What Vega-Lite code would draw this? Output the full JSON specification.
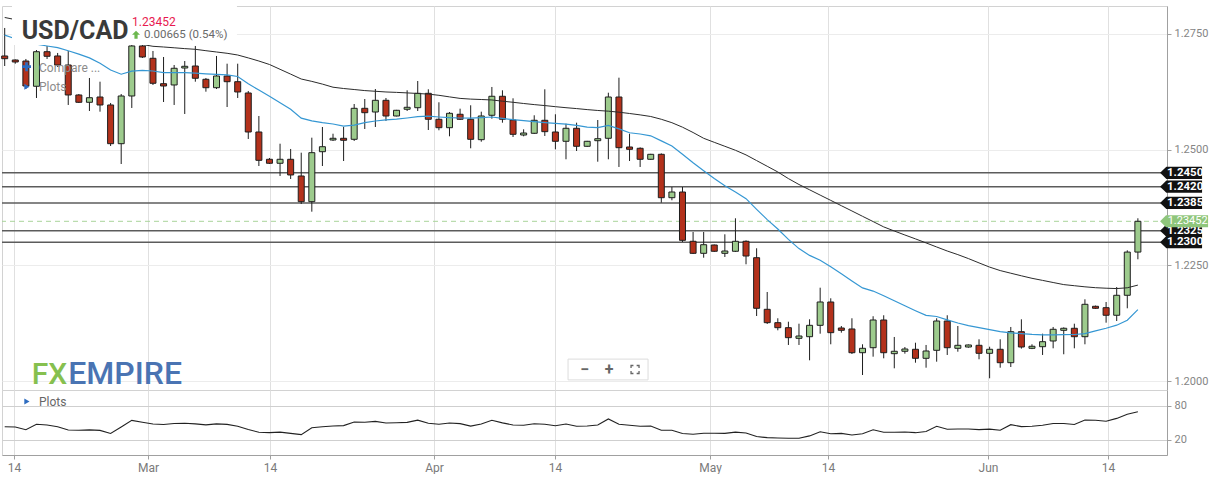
{
  "$schema": "https://vega.github.io/schema/vega-lite/v6.json",
  "padding": {"left": 0, "top": 5, "right": 0, "bottom": 0},
  "background": "white",
  "spacing": 0,
  "bounds": "flush",
  "config": {
    "view": {"stroke": "#d2d2d2"},
    "axis": {"labelFont": "Roboto", "labelColor": "#858585", "labelFontSize": 11, "tickColor": "#a0a0a0", "domainColor": "#a0a0a0", "title": null},
    "text": {"font": "Roboto"}
  },
  "datasets": {
    "levels": [
      {"level": 1.245}, {"level": 1.242}, {"level": 1.2385}, {"level": 1.2325}, {"level": 1.23}
    ],
    "current": [{"level": 1.23452}],
    "candles": [
      {"i":1,"d":"2021-02-12","o":1.27025,"h":1.2763,"l":1.26808,"c":1.26966,"ma20":1.27476,"ma50":1.27857,"rsi":43.3},
      {"i":2,"d":"2021-02-14","o":1.26938,"h":1.2695,"l":1.26858,"c":1.26895,"ma20":1.27398,"ma50":1.27811,"rsi":42.9},
      {"i":3,"d":"2021-02-15","o":1.26916,"h":1.2696,"l":1.26311,"c":1.26376,"ma20":1.27349,"ma50":1.27766,"rsi":38},
      {"i":4,"d":"2021-02-16","o":1.2637,"h":1.27154,"l":1.26117,"c":1.27117,"ma20":1.27282,"ma50":1.2772,"rsi":47.7},
      {"i":5,"d":"2021-02-17","o":1.27117,"h":1.27241,"l":1.2696,"c":1.27018,"ma20":1.27241,"ma50":1.27677,"rsi":46.5},
      {"i":6,"d":"2021-02-18","o":1.27025,"h":1.2709,"l":1.26787,"c":1.2683,"ma20":1.27204,"ma50":1.27632,"rsi":43.5},
      {"i":7,"d":"2021-02-19","o":1.2683,"h":1.27133,"l":1.25966,"c":1.26182,"ma20":1.27137,"ma50":1.27586,"rsi":37.6},
      {"i":8,"d":"2021-02-21","o":1.26182,"h":1.26203,"l":1.26009,"c":1.26024,"ma20":1.27066,"ma50":1.27543,"rsi":37.3},
      {"i":9,"d":"2021-02-22","o":1.26024,"h":1.26549,"l":1.25836,"c":1.26123,"ma20":1.26983,"ma50":1.27498,"rsi":37.8},
      {"i":10,"d":"2021-02-23","o":1.26138,"h":1.26469,"l":1.25821,"c":1.25966,"ma20":1.26867,"ma50":1.27452,"rsi":36.9},
      {"i":11,"d":"2021-02-24","o":1.25966,"h":1.26009,"l":1.25079,"c":1.25129,"ma20":1.2672,"ma50":1.27407,"rsi":31.5},
      {"i":12,"d":"2021-02-25","o":1.25129,"h":1.26203,"l":1.2469,"c":1.2616,"ma20":1.26631,"ma50":1.27364,"rsi":42.9},
      {"i":13,"d":"2021-02-26","o":1.2616,"h":1.27349,"l":1.25901,"c":1.27241,"ma20":1.26698,"ma50":1.27318,"rsi":54.6},
      {"i":14,"d":"2021-02-28","o":1.27241,"h":1.27284,"l":1.26981,"c":1.27003,"ma20":1.26715,"ma50":1.27273,"rsi":51.2},
      {"i":15,"d":"2021-03-01","o":1.26975,"h":1.27133,"l":1.26398,"c":1.26435,"ma20":1.267,"ma50":1.27234,"rsi":48.1},
      {"i":16,"d":"2021-03-02","o":1.26426,"h":1.27003,"l":1.2603,"c":1.26376,"ma20":1.26664,"ma50":1.27219,"rsi":47.4},
      {"i":17,"d":"2021-03-03","o":1.26398,"h":1.2683,"l":1.25966,"c":1.26759,"ma20":1.26664,"ma50":1.27202,"rsi":49.1},
      {"i":18,"d":"2021-03-04","o":1.26765,"h":1.26916,"l":1.25771,"c":1.26802,"ma20":1.26664,"ma50":1.27184,"rsi":49.6},
      {"i":19,"d":"2021-03-05","o":1.26808,"h":1.27241,"l":1.26469,"c":1.26543,"ma20":1.26653,"ma50":1.27169,"rsi":48.4},
      {"i":20,"d":"2021-03-07","o":1.26521,"h":1.26549,"l":1.26253,"c":1.26339,"ma20":1.26638,"ma50":1.27139,"rsi":46.6},
      {"i":21,"d":"2021-03-08","o":1.26339,"h":1.27025,"l":1.26311,"c":1.26592,"ma20":1.26627,"ma50":1.27111,"rsi":48.4},
      {"i":22,"d":"2021-03-09","o":1.26592,"h":1.26858,"l":1.25922,"c":1.26469,"ma20":1.26616,"ma50":1.27083,"rsi":47.5},
      {"i":23,"d":"2021-03-10","o":1.26469,"h":1.26858,"l":1.26117,"c":1.26247,"ma20":1.26582,"ma50":1.27046,"rsi":44.2},
      {"i":24,"d":"2021-03-11","o":1.26225,"h":1.26268,"l":1.25231,"c":1.25382,"ma20":1.26424,"ma50":1.26983,"rsi":38.5},
      {"i":25,"d":"2021-03-12","o":1.25382,"h":1.25728,"l":1.24647,"c":1.2477,"ma20":1.26288,"ma50":1.26916,"rsi":33.6},
      {"i":26,"d":"2021-03-14","o":1.24792,"h":1.2482,"l":1.2469,"c":1.24706,"ma20":1.26154,"ma50":1.26841,"rsi":32.9},
      {"i":27,"d":"2021-03-15","o":1.24706,"h":1.25129,"l":1.24431,"c":1.24792,"ma20":1.26013,"ma50":1.26737,"rsi":33.9},
      {"i":28,"d":"2021-03-16","o":1.24792,"h":1.25015,"l":1.24366,"c":1.24453,"ma20":1.25873,"ma50":1.26633,"rsi":31.6},
      {"i":29,"d":"2021-03-17","o":1.24431,"h":1.24935,"l":1.23826,"c":1.23876,"ma20":1.25682,"ma50":1.26527,"rsi":29.5},
      {"i":30,"d":"2021-03-18","o":1.23876,"h":1.25259,"l":1.2366,"c":1.24935,"ma20":1.25622,"ma50":1.26476,"rsi":41.7},
      {"i":31,"d":"2021-03-19","o":1.24956,"h":1.2549,"l":1.24647,"c":1.25064,"ma20":1.25583,"ma50":1.26417,"rsi":43.3},
      {"i":32,"d":"2021-03-21","o":1.25209,"h":1.25345,"l":1.25188,"c":1.25246,"ma20":1.25555,"ma50":1.2635,"rsi":44.7},
      {"i":33,"d":"2021-03-22","o":1.25246,"h":1.2549,"l":1.24755,"c":1.25203,"ma20":1.25507,"ma50":1.26322,"rsi":45.4},
      {"i":34,"d":"2021-03-23","o":1.25224,"h":1.25987,"l":1.25188,"c":1.25894,"ma20":1.25529,"ma50":1.263,"rsi":51.8},
      {"i":35,"d":"2021-03-24","o":1.25894,"h":1.26095,"l":1.25447,"c":1.25799,"ma20":1.25583,"ma50":1.26277,"rsi":51.2},
      {"i":36,"d":"2021-03-25","o":1.25814,"h":1.26311,"l":1.2549,"c":1.26067,"ma20":1.2562,"ma50":1.26262,"rsi":52.8},
      {"i":37,"d":"2021-03-26","o":1.26067,"h":1.26117,"l":1.2562,"c":1.25728,"ma20":1.25644,"ma50":1.26247,"rsi":50},
      {"i":38,"d":"2021-03-28","o":1.25728,"h":1.2586,"l":1.2572,"c":1.25851,"ma20":1.25661,"ma50":1.26238,"rsi":50.5},
      {"i":39,"d":"2021-03-29","o":1.25873,"h":1.26283,"l":1.25836,"c":1.25916,"ma20":1.25685,"ma50":1.26227,"rsi":51.1},
      {"i":40,"d":"2021-03-30","o":1.25907,"h":1.26484,"l":1.25836,"c":1.26218,"ma20":1.25713,"ma50":1.26214,"rsi":55},
      {"i":41,"d":"2021-03-31","o":1.26218,"h":1.26305,"l":1.25425,"c":1.25657,"ma20":1.25724,"ma50":1.26201,"rsi":49.6},
      {"i":42,"d":"2021-04-01","o":1.25657,"h":1.26024,"l":1.25419,"c":1.25475,"ma20":1.25706,"ma50":1.26175,"rsi":47.7},
      {"i":43,"d":"2021-04-02","o":1.25475,"h":1.25814,"l":1.25289,"c":1.25786,"ma20":1.25691,"ma50":1.26141,"rsi":50},
      {"i":44,"d":"2021-04-04","o":1.25765,"h":1.25886,"l":1.25641,"c":1.25657,"ma20":1.25685,"ma50":1.26108,"rsi":48.9},
      {"i":45,"d":"2021-04-05","o":1.25657,"h":1.25959,"l":1.2503,"c":1.25224,"ma20":1.2568,"ma50":1.26093,"rsi":44.4},
      {"i":46,"d":"2021-04-06","o":1.25216,"h":1.25821,"l":1.25172,"c":1.25728,"ma20":1.25693,"ma50":1.26084,"rsi":48.2},
      {"i":47,"d":"2021-04-07","o":1.25743,"h":1.26355,"l":1.25669,"c":1.26154,"ma20":1.25706,"ma50":1.26074,"rsi":54.8},
      {"i":48,"d":"2021-04-08","o":1.26154,"h":1.26283,"l":1.25583,"c":1.25657,"ma20":1.25676,"ma50":1.26048,"rsi":50.2},
      {"i":49,"d":"2021-04-09","o":1.25641,"h":1.2611,"l":1.25274,"c":1.25332,"ma20":1.25648,"ma50":1.26024,"rsi":46.5},
      {"i":50,"d":"2021-04-11","o":1.25317,"h":1.2544,"l":1.25289,"c":1.2536,"ma20":1.25626,"ma50":1.25998,"rsi":45.9},
      {"i":51,"d":"2021-04-12","o":1.25354,"h":1.25743,"l":1.25339,"c":1.25635,"ma20":1.25607,"ma50":1.25974,"rsi":48.6},
      {"i":52,"d":"2021-04-13","o":1.25635,"h":1.26305,"l":1.25296,"c":1.25389,"ma20":1.25585,"ma50":1.25953,"rsi":47.7},
      {"i":53,"d":"2021-04-14","o":1.25382,"h":1.25765,"l":1.25008,"c":1.25181,"ma20":1.25568,"ma50":1.25929,"rsi":45.1},
      {"i":54,"d":"2021-04-15","o":1.25181,"h":1.25561,"l":1.24792,"c":1.25462,"ma20":1.25553,"ma50":1.25907,"rsi":48.1},
      {"i":55,"d":"2021-04-16","o":1.25462,"h":1.25583,"l":1.24971,"c":1.25073,"ma20":1.25525,"ma50":1.25888,"rsi":44.2},
      {"i":56,"d":"2021-04-18","o":1.25073,"h":1.2519,"l":1.2506,"c":1.25181,"ma20":1.25488,"ma50":1.25866,"rsi":44.7},
      {"i":57,"d":"2021-04-19","o":1.25194,"h":1.25641,"l":1.2474,"c":1.25237,"ma20":1.25475,"ma50":1.25847,"rsi":46.3},
      {"i":58,"d":"2021-04-20","o":1.25246,"h":1.26231,"l":1.24792,"c":1.26138,"ma20":1.25525,"ma50":1.25832,"rsi":57.1},
      {"i":59,"d":"2021-04-21","o":1.26138,"h":1.26556,"l":1.24626,"c":1.25043,"ma20":1.25449,"ma50":1.2581,"rsi":47.7},
      {"i":60,"d":"2021-04-22","o":1.25058,"h":1.25345,"l":1.24755,"c":1.25008,"ma20":1.25365,"ma50":1.25782,"rsi":45.9},
      {"i":61,"d":"2021-04-23","o":1.2503,"h":1.2505,"l":1.24626,"c":1.24792,"ma20":1.25339,"ma50":1.25752,"rsi":44.2},
      {"i":62,"d":"2021-04-25","o":1.24792,"h":1.2491,"l":1.2478,"c":1.249,"ma20":1.253,"ma50":1.25717,"rsi":44.7},
      {"i":63,"d":"2021-04-26","o":1.249,"h":1.2492,"l":1.23854,"c":1.23962,"ma20":1.2519,"ma50":1.25657,"rsi":37.1},
      {"i":64,"d":"2021-04-27","o":1.23962,"h":1.24193,"l":1.23906,"c":1.24085,"ma20":1.2508,"ma50":1.25583,"rsi":37.1},
      {"i":65,"d":"2021-04-28","o":1.24085,"h":1.24193,"l":1.23005,"c":1.23041,"ma20":1.249,"ma50":1.25486,"rsi":31.3},
      {"i":66,"d":"2021-04-29","o":1.2302,"h":1.23221,"l":1.22745,"c":1.2276,"ma20":1.24716,"ma50":1.25371,"rsi":30.1},
      {"i":67,"d":"2021-04-30","o":1.2276,"h":1.23221,"l":1.22665,"c":1.22946,"ma20":1.24546,"ma50":1.25246,"rsi":31.8},
      {"i":68,"d":"2021-05-02","o":1.2294,"h":1.2295,"l":1.2279,"c":1.22804,"ma20":1.24377,"ma50":1.25159,"rsi":31.8},
      {"i":69,"d":"2021-05-03","o":1.2276,"h":1.23171,"l":1.22681,"c":1.2281,"ma20":1.24219,"ma50":1.25073,"rsi":31.6},
      {"i":70,"d":"2021-05-04","o":1.22804,"h":1.23517,"l":1.22789,"c":1.2302,"ma20":1.24083,"ma50":1.24987,"rsi":33.9},
      {"i":71,"d":"2021-05-05","o":1.2302,"h":1.2304,"l":1.22523,"c":1.22702,"ma20":1.23941,"ma50":1.24887,"rsi":32.4},
      {"i":72,"d":"2021-05-06","o":1.22665,"h":1.22869,"l":1.21405,"c":1.21572,"ma20":1.23711,"ma50":1.24764,"rsi":26},
      {"i":73,"d":"2021-05-07","o":1.2155,"h":1.21924,"l":1.21233,"c":1.21261,"ma20":1.23489,"ma50":1.24641,"rsi":24.1},
      {"i":74,"d":"2021-05-09","o":1.21261,"h":1.21356,"l":1.21096,"c":1.21153,"ma20":1.23286,"ma50":1.24518,"rsi":23.5},
      {"i":75,"d":"2021-05-10","o":1.21153,"h":1.21282,"l":1.20779,"c":1.20937,"ma20":1.23061,"ma50":1.24375,"rsi":23},
      {"i":76,"d":"2021-05-11","o":1.20923,"h":1.21239,"l":1.20779,"c":1.20973,"ma20":1.22862,"ma50":1.24247,"rsi":23},
      {"i":77,"d":"2021-05-12","o":1.20958,"h":1.21334,"l":1.20448,"c":1.21204,"ma20":1.22715,"ma50":1.24133,"rsi":27.2},
      {"i":78,"d":"2021-05-13","o":1.21204,"h":1.22017,"l":1.21023,"c":1.21708,"ma20":1.22611,"ma50":1.24018,"rsi":34.5},
      {"i":79,"d":"2021-05-14","o":1.21708,"h":1.21788,"l":1.20794,"c":1.21045,"ma20":1.22469,"ma50":1.23904,"rsi":31.1},
      {"i":80,"d":"2021-05-16","o":1.21146,"h":1.21189,"l":1.21045,"c":1.21096,"ma20":1.22317,"ma50":1.23789,"rsi":31.6},
      {"i":81,"d":"2021-05-17","o":1.21125,"h":1.21356,"l":1.20584,"c":1.20612,"ma20":1.22164,"ma50":1.23675,"rsi":28.8},
      {"i":82,"d":"2021-05-18","o":1.20612,"h":1.20794,"l":1.2013,"c":1.20707,"ma20":1.22013,"ma50":1.2356,"rsi":30.9},
      {"i":83,"d":"2021-05-19","o":1.2072,"h":1.214,"l":1.20526,"c":1.21319,"ma20":1.21944,"ma50":1.23446,"rsi":38},
      {"i":84,"d":"2021-05-20","o":1.21319,"h":1.21421,"l":1.20491,"c":1.20612,"ma20":1.21844,"ma50":1.23331,"rsi":33.6},
      {"i":85,"d":"2021-05-21","o":1.20591,"h":1.20952,"l":1.20275,"c":1.20643,"ma20":1.21736,"ma50":1.23242,"rsi":33.6},
      {"i":86,"d":"2021-05-23","o":1.20643,"h":1.20735,"l":1.20591,"c":1.20692,"ma20":1.21628,"ma50":1.23156,"rsi":34.1},
      {"i":87,"d":"2021-05-24","o":1.20686,"h":1.20828,"l":1.20396,"c":1.20491,"ma20":1.2152,"ma50":1.23072,"rsi":32.9},
      {"i":88,"d":"2021-05-25","o":1.20491,"h":1.20779,"l":1.20288,"c":1.20649,"ma20":1.21418,"ma50":1.22985,"rsi":35},
      {"i":89,"d":"2021-05-26","o":1.20664,"h":1.21356,"l":1.20418,"c":1.21297,"ma20":1.21395,"ma50":1.22897,"rsi":44.2},
      {"i":90,"d":"2021-05-27","o":1.21297,"h":1.21421,"l":1.20563,"c":1.2072,"ma20":1.21323,"ma50":1.2281,"rsi":38.9},
      {"i":91,"d":"2021-05-28","o":1.20707,"h":1.21189,"l":1.20634,"c":1.20772,"ma20":1.21254,"ma50":1.22732,"rsi":39.4},
      {"i":92,"d":"2021-05-30","o":1.20735,"h":1.2079,"l":1.2072,"c":1.20779,"ma20":1.21198,"ma50":1.22646,"rsi":39.4},
      {"i":93,"d":"2021-05-31","o":1.20772,"h":1.20902,"l":1.2047,"c":1.20599,"ma20":1.21155,"ma50":1.22553,"rsi":38.2},
      {"i":94,"d":"2021-06-01","o":1.20599,"h":1.20742,"l":1.20059,"c":1.20686,"ma20":1.21111,"ma50":1.22462,"rsi":39.2},
      {"i":95,"d":"2021-06-02","o":1.20686,"h":1.20902,"l":1.20288,"c":1.20396,"ma20":1.21066,"ma50":1.22387,"rsi":37.1},
      {"i":96,"d":"2021-06-03","o":1.20396,"h":1.21168,"l":1.20303,"c":1.21066,"ma20":1.21042,"ma50":1.2233,"rsi":47},
      {"i":97,"d":"2021-06-04","o":1.21066,"h":1.21334,"l":1.207,"c":1.20735,"ma20":1.21025,"ma50":1.22274,"rsi":43.6},
      {"i":98,"d":"2021-06-06","o":1.20707,"h":1.20794,"l":1.2069,"c":1.20751,"ma20":1.21008,"ma50":1.2222,"rsi":44.2},
      {"i":99,"d":"2021-06-07","o":1.20742,"h":1.21023,"l":1.20563,"c":1.2085,"ma20":1.20999,"ma50":1.22175,"rsi":45.9},
      {"i":100,"d":"2021-06-08","o":1.20865,"h":1.21168,"l":1.20707,"c":1.21118,"ma20":1.20997,"ma50":1.22129,"rsi":49.1},
      {"i":101,"d":"2021-06-09","o":1.21096,"h":1.2116,"l":1.20578,"c":1.2114,"ma20":1.21001,"ma50":1.22084,"rsi":49.1},
      {"i":102,"d":"2021-06-10","o":1.2114,"h":1.21239,"l":1.20707,"c":1.20958,"ma20":1.21006,"ma50":1.2206,"rsi":47.4},
      {"i":103,"d":"2021-06-11","o":1.20958,"h":1.21766,"l":1.20794,"c":1.21658,"ma20":1.21025,"ma50":1.22036,"rsi":55.3},
      {"i":104,"d":"2021-06-13","o":1.21615,"h":1.2163,"l":1.2156,"c":1.21572,"ma20":1.21083,"ma50":1.22017,"rsi":54.8},
      {"i":105,"d":"2021-06-14","o":1.21585,"h":1.21708,"l":1.21261,"c":1.21421,"ma20":1.2114,"ma50":1.22006,"rsi":53},
      {"i":106,"d":"2021-06-15","o":1.21421,"h":1.22032,"l":1.21297,"c":1.21853,"ma20":1.21207,"ma50":1.21998,"rsi":58.1},
      {"i":107,"d":"2021-06-16","o":1.21853,"h":1.22825,"l":1.21572,"c":1.22787,"ma20":1.21315,"ma50":1.22015,"rsi":65.4},
      {"i":108,"d":"2021-06-17","o":1.22787,"h":1.23517,"l":1.22631,"c":1.23452,"ma20":1.21542,"ma50":1.22073,"rsi":69.9}
    ]
  },
  "vconcat": [
    {
      "width": 1165,
      "height": 384,
      "layer": [
        {
          "data": {"name": "candles"},
          "mark": {"type": "rule", "color": "#1e1e1e", "strokeWidth": 1},
          "encoding": {
            "x": {"field": "i", "type": "quantitative", "scale": {"domain": [0.745, 110.75], "nice": false, "zero": false, "padding": 0},
                  "axis": {"orient": "bottom", "values": [1.88, 14.53, 26.05, 41.54, 52.96, 67.6, 78.74, 93.85, 105.19], "grid": true, "gridColor": "#e0e0e0", "labels": false, "ticks": false, "domain": false, "title": null, "minExtent": 0, "maxExtent": 0, "offset": 0, "labelPadding": 0}},
            "y": {"field": "l", "type": "quantitative", "scale": {"domain": [1.19806, 1.28105], "nice": false, "zero": false, "padding": 0},
                  "axis": {"orient": "right", "values": [1.2, 1.225, 1.25, 1.275], "format": ".4f", "grid": true, "gridColor": "#ececec", "title": null, "tickSize": 4, "labelPadding": 3}},
            "y2": {"field": "h"},
            "opacity": {"value": 0}
          }
        },
        {
          "data": {"name": "levels"},
          "mark": {"type": "rule", "color": "#5c5c5c", "strokeWidth": 1.5},
          "encoding": {"y": {"field": "level", "type": "quantitative"}}
        },
        {
          "data": {"name": "current"},
          "mark": {"type": "rule", "color": "#a9d49a", "strokeWidth": 1, "strokeDash": [5, 4]},
          "encoding": {"y": {"field": "level", "type": "quantitative"}}
        },
        {
          "data": {"name": "candles"},
          "mark": {"type": "rule", "color": "#1e1e1e", "strokeWidth": 1},
          "encoding": {
            "x": {"field": "i", "type": "quantitative"},
            "y": {"field": "l", "type": "quantitative"},
            "y2": {"field": "h"}
          }
        },
        {
          "data": {"name": "candles"},
          "mark": {"type": "bar", "size": 6, "stroke": "#1e1e1e", "strokeWidth": 1},
          "encoding": {
            "x": {"field": "i", "type": "quantitative"},
            "y": {"field": "o", "type": "quantitative"},
            "y2": {"field": "c"},
            "fill": {"condition": {"test": "datum.c >= datum.o", "value": "#9dcb8d"}, "value": "#b3311b"}
          }
        },
        {
          "data": {"name": "candles"},
          "mark": {"type": "line", "color": "#2b2b2b", "strokeWidth": 1},
          "encoding": {
            "x": {"field": "i", "type": "quantitative"},
            "y": {"field": "ma50", "type": "quantitative"}
          }
        },
        {
          "data": {"name": "candles"},
          "mark": {"type": "line", "color": "#3597d3", "strokeWidth": 1.2},
          "encoding": {
            "x": {"field": "i", "type": "quantitative"},
            "y": {"field": "ma20", "type": "quantitative"}
          }
        },
        {
          "data": {"values": [{}]},
          "mark": {"type": "rect", "fill": "#ffffff"},
          "encoding": {
            "x": {"datum": 1.69, "type": "quantitative"},
            "x2": {"datum": 22.93},
            "y": {"datum": 1.28105, "type": "quantitative"},
            "y2": {"datum": 1.27262}
          }
        },
        {
          "data": {"values": [{}]},
          "mark": {"type": "text", "fontWeight": "bold", "fontSize": 25, "color": "#3a3a3a", "align": "left", "baseline": "alphabetic"},
          "encoding": {
            "x": {"datum": 2.6, "type": "quantitative"},
            "y": {"datum": 1.27381, "type": "quantitative"},
            "text": {"value": "USD/CAD"}
          }
        },
        {
          "data": {"values": [{}]},
          "mark": {"type": "text", "fontSize": 12, "color": "#e8194f", "align": "left", "baseline": "alphabetic"},
          "encoding": {
            "x": {"datum": 13.02, "type": "quantitative"},
            "y": {"datum": 1.27673, "type": "quantitative"},
            "text": {"value": "1.23452"}
          }
        },
        {
          "data": {"values": [{}]},
          "mark": {"type": "point", "shape": "M0,-1L1,0L0.4,0L0.4,1L-0.4,1L-0.4,0L-1,0Z", "size": 64, "filled": true, "color": "#6cb84f", "opacity": 1},
          "encoding": {
            "x": {"datum": 13.4, "type": "quantitative"},
            "y": {"datum": 1.27485, "type": "quantitative"}
          }
        },
        {
          "data": {"values": [{}]},
          "mark": {"type": "text", "fontSize": 11.5, "color": "#6a6a6a", "align": "left", "baseline": "alphabetic"},
          "encoding": {
            "x": {"datum": 14.15, "type": "quantitative"},
            "y": {"datum": 1.27407, "type": "quantitative"},
            "text": {"value": "0.00665 (0.54%)"}
          }
        },
        {
          "data": {"values": [{}]},
          "mark": {"type": "text", "fontSize": 12, "color": "#8c8c8c", "align": "left", "baseline": "middle"},
          "encoding": {
            "x": {"datum": 4.24, "type": "quantitative"},
            "y": {"datum": 1.26772, "type": "quantitative"},
            "text": {"value": "Compare ..."}
          }
        },
        {
          "data": {"values": [{}]},
          "mark": {"type": "point", "shape": "M-1,-0.3L-0.3,-0.3L-0.3,-1L0.3,-1L0.3,-0.3L1,-0.3L1,0.3L0.3,0.3L0.3,1L-0.3,1L-0.3,0.3L-1,0.3Z", "size": 81, "filled": true, "color": "#2d6cc0", "opacity": 1},
          "encoding": {
            "x": {"datum": 3.06, "type": "quantitative"},
            "y": {"datum": 1.26793, "type": "quantitative"}
          }
        },
        {
          "data": {"values": [{}]},
          "mark": {"type": "text", "fontSize": 12, "color": "#8c8c8c", "align": "left", "baseline": "middle"},
          "encoding": {
            "x": {"datum": 4.24, "type": "quantitative"},
            "y": {"datum": 1.26361, "type": "quantitative"},
            "text": {"value": "Plots"}
          }
        },
        {
          "data": {"values": [{}]},
          "mark": {"type": "point", "shape": "triangle-right", "size": 36, "filled": true, "color": "#2d6cc0", "opacity": 1},
          "encoding": {
            "x": {"datum": 3.1, "type": "quantitative"},
            "y": {"datum": 1.26361, "type": "quantitative"}
          }
        },
        {
          "data": {"values": [{}]},
          "mark": {"type": "text", "fontSize": 30, "fontWeight": 500, "color": "#86c04f", "align": "left", "baseline": "alphabetic"},
          "encoding": {
            "x": {"datum": 3.55, "type": "quantitative"},
            "y": {"datum": 1.19936, "type": "quantitative"},
            "text": {"value": "FX"}
          }
        },
        {
          "data": {"values": [{}]},
          "mark": {"type": "text", "fontSize": 32, "fontWeight": 500, "color": "#4a74b3", "align": "left", "baseline": "alphabetic"},
          "encoding": {
            "x": {"datum": 7.0, "type": "quantitative"},
            "y": {"datum": 1.19936, "type": "quantitative"},
            "text": {"value": "EMPIRE"}
          }
        },
        {
          "data": {"values": [{}]},
          "mark": {"type": "point", "shape": "M-1,-0.26L1,-0.26L1,0.26L-1,0.26Z", "size": 6400, "filled": true, "fill": "#ffffff", "stroke": "#dcdcdc", "strokeWidth": 1, "opacity": 1},
          "encoding": {
            "x": {"datum": 57.97, "type": "quantitative"},
            "y": {"datum": 1.20249, "type": "quantitative"}
          }
        },
        {
          "data": {"values": [{}]},
          "mark": {"type": "text", "fontSize": 16, "fontWeight": "bold", "color": "#666666", "align": "center", "baseline": "middle"},
          "encoding": {
            "x": {"datum": 55.76, "type": "quantitative"},
            "y": {"datum": 1.20249, "type": "quantitative"},
            "text": {"value": "−"}
          }
        },
        {
          "data": {"values": [{}]},
          "mark": {"type": "text", "fontSize": 16, "fontWeight": "bold", "color": "#666666", "align": "center", "baseline": "middle"},
          "encoding": {
            "x": {"datum": 58.06, "type": "quantitative"},
            "y": {"datum": 1.20249, "type": "quantitative"},
            "text": {"value": "+"}
          }
        },
        {
          "data": {"values": [{}]},
          "mark": {"type": "point", "shape": "M-1,-0.4L-1,-1L-0.4,-1M0.4,-1L1,-1L1,-0.4M1,0.4L1,1L0.4,1M-0.4,1L-1,1L-1,0.4", "size": 64, "filled": false, "stroke": "#666666", "strokeWidth": 1.3, "opacity": 1},
          "encoding": {
            "x": {"datum": 60.52, "type": "quantitative"},
            "y": {"datum": 1.20249, "type": "quantitative"}
          }
        },
        {
          "data": {"name": "levels"},
          "mark": {"type": "point", "shape": "M-1,0L-0.7,-0.29L1,-0.29L1,0.29L-0.7,0.29Z", "size": 1764, "filled": true, "color": "#111111", "opacity": 1},
          "encoding": {
            "x": {"datum": 112.08, "type": "quantitative"},
            "y": {"field": "level", "type": "quantitative"}
          }
        },
        {
          "data": {"name": "levels"},
          "mark": {"type": "text", "fontSize": 11.5, "fontWeight": "bold", "color": "#ffffff", "align": "center", "baseline": "middle"},
          "encoding": {
            "x": {"datum": 112.46, "type": "quantitative"},
            "y": {"field": "level", "type": "quantitative"},
            "text": {"field": "level", "type": "quantitative", "format": ".4f"}
          }
        },
        {
          "data": {"name": "current"},
          "mark": {"type": "point", "shape": "M-1,0L-0.75,-0.25L1,-0.25L1,0.25L-0.75,0.25Z", "size": 2304, "filled": true, "color": "#8fc67c", "opacity": 1},
          "encoding": {
            "x": {"datum": 112.36, "type": "quantitative"},
            "y": {"field": "level", "type": "quantitative"}
          }
        },
        {
          "data": {"name": "current"},
          "mark": {"type": "text", "fontSize": 11, "color": "#ffffff", "align": "center", "baseline": "middle"},
          "encoding": {
            "x": {"datum": 112.7, "type": "quantitative"},
            "y": {"field": "level", "type": "quantitative"},
            "text": {"field": "level", "type": "quantitative", "format": ".5f"}
          }
        }
      ]
    },
    {
      "width": 1165,
      "height": 65,
      "layer": [
        {
          "data": {"name": "candles"},
          "mark": {"type": "line", "color": "#222222", "strokeWidth": 1.1},
          "encoding": {
            "x": {"field": "i", "type": "quantitative", "scale": {"domain": [0.745, 110.75], "nice": false, "zero": false, "padding": 0},
                  "axis": {"orient": "bottom", "values": [1.88, 14.53, 26.05, 41.54, 52.96, 67.6, 78.74, 93.85, 105.19],
                           "labelExpr": "datum.value < 5 ? '14' : datum.value < 20 ? 'Mar' : datum.value < 30 ? '14' : datum.value < 45 ? 'Apr' : datum.value < 60 ? '14' : datum.value < 70 ? 'May' : datum.value < 85 ? '14' : datum.value < 100 ? 'Jun' : '14'",
                           "grid": true, "gridColor": "#e0e0e0", "title": null, "tickSize": 4, "labelPadding": 3, "labelFontSize": 12, "labelColor": "#7a7a7a", "labelFlush": false}},
            "y": {"field": "rsi", "type": "quantitative", "scale": {"domain": [-6.5, 108.2], "nice": false, "zero": false},
                  "axis": {"orient": "right", "values": [20, 80], "grid": true, "gridColor": "#cfcfcf", "title": null, "tickSize": 4, "labelPadding": 3}}
          }
        },
        {
          "data": {"values": [{}]},
          "mark": {"type": "text", "fontSize": 12, "color": "#666666", "align": "left", "baseline": "middle"},
          "encoding": {
            "x": {"datum": 4.24, "type": "quantitative"},
            "y": {"datum": 87.5, "type": "quantitative"},
            "text": {"value": "Plots"}
          }
        },
        {
          "data": {"values": [{}]},
          "mark": {"type": "point", "shape": "triangle-right", "size": 36, "filled": true, "color": "#2d6cc0", "opacity": 1},
          "encoding": {
            "x": {"datum": 3.1, "type": "quantitative"},
            "y": {"datum": 87.9, "type": "quantitative"}
          }
        }
      ]
    }
  ]
}
